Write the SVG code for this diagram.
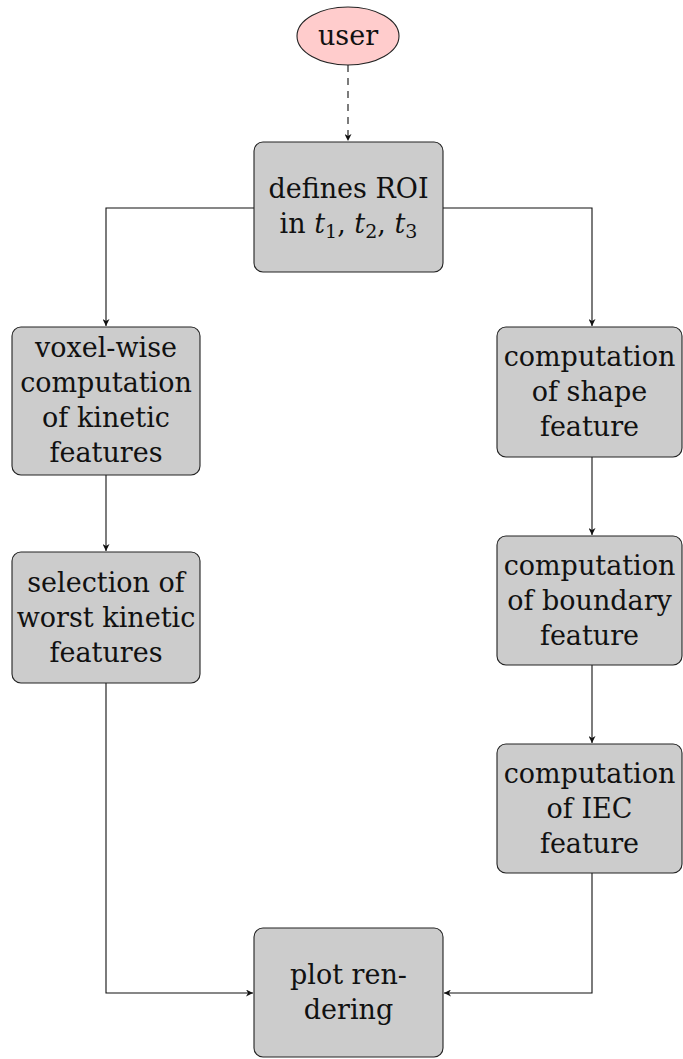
<svg xmlns="http://www.w3.org/2000/svg" width="683" height="1059" viewBox="0 0 683 1059">
<style>
.box{fill:#cccccc;stroke:#222;stroke-width:1.1}
.ell{fill:#ffcccc;stroke:#222;stroke-width:1.1}
.t{font-family:"DejaVu Serif","Liberation Serif",serif;font-size:27px;fill:#111;text-anchor:middle}
.c{fill:none;stroke:#111;stroke-width:1.1}
.d{stroke-dasharray:7,6}
.it{font-style:italic}
.sub{font-size:19px}
</style>
<defs>
<marker id="ah" viewBox="0 0 10 10" refX="10" refY="5" markerWidth="7" markerHeight="7" markerUnits="userSpaceOnUse" orient="auto">
<path d="M0,0 L10,5 L0,10 L3,5 Z" fill="#111"/>
</marker>
</defs>
<g id="connectors">
<path class="c d" d="M348,65 V141" marker-end="url(#ah)"/>
<path class="c" d="M254,208 H106 V326" marker-end="url(#ah)"/>
<path class="c" d="M443,208 H592 V326" marker-end="url(#ah)"/>
<path class="c" d="M106,475 V551" marker-end="url(#ah)"/>
<path class="c" d="M592,457 V535" marker-end="url(#ah)"/>
<path class="c" d="M592,665 V743" marker-end="url(#ah)"/>
<path class="c" d="M106,683 V993 H253" marker-end="url(#ah)"/>
<path class="c" d="M592,873 V993 H444" marker-end="url(#ah)"/>
</g>
<g id="user">
<ellipse class="ell" cx="348" cy="36" rx="51" ry="29"/>
<text class="t" x="348" y="45">user</text>
</g>
<g id="roi">
<rect class="box" x="254" y="142" width="189" height="130" rx="9"/>
<text class="t" x="348.5" y="198">defines ROI</text>
<text class="t" x="348.5" y="233">in <tspan class="it">t</tspan><tspan class="sub" dy="5">1</tspan><tspan dy="-5">, </tspan><tspan class="it">t</tspan><tspan class="sub" dy="5">2</tspan><tspan dy="-5">, </tspan><tspan class="it">t</tspan><tspan class="sub" dy="5">3</tspan></text>
</g>
<g id="voxel">
<rect class="box" x="12" y="327" width="188" height="148" rx="9"/>
<text class="t" x="106" y="357">voxel-wise</text>
<text class="t" x="106" y="392">computation</text>
<text class="t" x="106" y="427">of kinetic</text>
<text class="t" x="106" y="462">features</text>
</g>
<g id="shape">
<rect class="box" x="497" y="327" width="185" height="130" rx="9"/>
<text class="t" x="589.5" y="366">computation</text>
<text class="t" x="589.5" y="401">of shape</text>
<text class="t" x="589.5" y="436">feature</text>
</g>
<g id="selection">
<rect class="box" x="12" y="552" width="188" height="131" rx="9"/>
<text class="t" x="106" y="592">selection of</text>
<text class="t" x="106" y="627">worst kinetic</text>
<text class="t" x="106" y="662">features</text>
</g>
<g id="boundary">
<rect class="box" x="497" y="536" width="185" height="129" rx="9"/>
<text class="t" x="589.5" y="575">computation</text>
<text class="t" x="589.5" y="610">of boundary</text>
<text class="t" x="589.5" y="645">feature</text>
</g>
<g id="iec">
<rect class="box" x="497" y="744" width="185" height="129" rx="9"/>
<text class="t" x="589.5" y="783">computation</text>
<text class="t" x="589.5" y="818">of IEC</text>
<text class="t" x="589.5" y="853">feature</text>
</g>
<g id="plot">
<rect class="box" x="254" y="928" width="189" height="129" rx="9"/>
<text class="t" x="348.5" y="984">plot ren-</text>
<text class="t" x="348.5" y="1019">dering</text>
</g>
</svg>
